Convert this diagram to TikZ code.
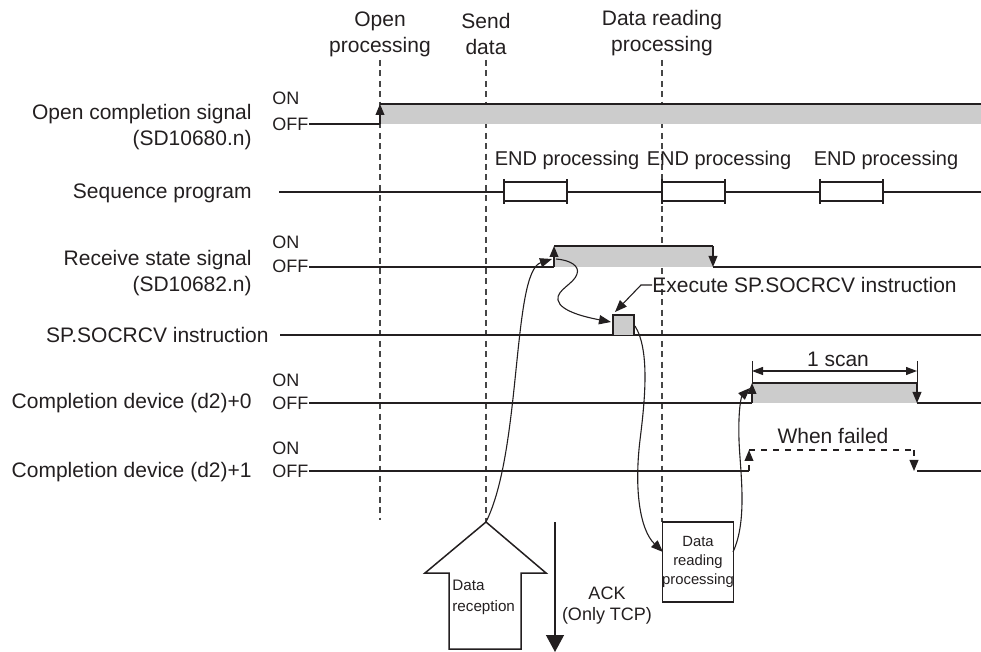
\documentclass[tikz,border=0pt]{standalone}
\usepackage{fontspec}
\setmainfont{Liberation Sans}
\usetikzlibrary{arrows.meta,positioning,calc}
\definecolor{barcol}{RGB}{204,204,204}
\definecolor{linecol}{RGB}{35,31,32}
\definecolor{markcol}{RGB}{70,70,70}
\tikzset{
  % signal name at the left
  siglabel/.style={anchor=east, align=right, inner sep=0pt, font=\fontsize{10.5}{13}\selectfont, text=linecol},
  % ON / OFF level
  lvllabel/.style={anchor=west, inner sep=0pt, font=\fontsize{9}{10}\selectfont, text=linecol},
  % event text
  evlabel/.style={align=center, inner sep=0pt, font=\fontsize{10.5}{13}\selectfont, text=linecol},
  % small text in boxes
  smalltext/.style={inner sep=0pt, font=\fontsize{7.6}{10.5}\selectfont, text=linecol},
  % timing line
  sigline/.style={draw=linecol, line width=0.65pt},
  % event marker
  evline/.style={draw=markcol, dash pattern=on 3pt off 2.2pt, line width=0.55pt},
  % edge arrow on a signal
  edgearrow/.style={-{Triangle[length=5.5pt,width=4.4pt]}, draw=linecol, line width=0.65pt},
  % flow arrow
  flowarrow/.style={-{Triangle[length=6pt,width=4.6pt]}, draw=linecol, line width=0.55pt},
  % dimension arrow
  dimarrow/.style={{Triangle[length=5.5pt,width=4pt]}-{Triangle[length=5.5pt,width=4pt]}, draw=linecol, line width=0.6pt},
  % reading box
  readbox/.style={draw=linecol, line width=0.6pt, fill=white, minimum width=35pt, minimum height=40pt,
                  inner sep=0pt, align=center, font=\fontsize{7.4}{9.3}\selectfont, text=linecol},
}
\begin{document}
\begin{tikzpicture}[x=0.5pt,y=-0.5pt]
  \useasboundingbox (0,0) rectangle (981,652);

  % event markers
  \node[evlabel] (opnlbl) at (380,34) {Open\\processing};
  \node[evlabel] (sndlbl) at (486,34) {Send\\data};
  \node[evlabel] (rdlbl) at (662,33) {Data reading\\processing};
  \coordinate (opntop) at (380,60);  \coordinate (opnbot) at (380,520);
  \coordinate (sndtop) at (486,60);  \coordinate (rcvtip) at (486,522);
  \coordinate (rdtop) at (662,60);   \coordinate (rdbot) at (662,522);
  \draw[evline] (opntop) -- (opnbot);
  \draw[evline] (sndtop) -- (rcvtip);
  \draw[evline] (rdtop) -- (rdbot);

  % open completion signal
  \node[siglabel] (ocslbl) at (252,127) {Open completion signal\\(SD10680.n)};
  \node[lvllabel] (ocson) at (272,98) {ON};
  \node[lvllabel] (ocsoff) at (272,124) {OFF};
  \fill[barcol] (380,104) rectangle (981,124);
  \draw[sigline] (309,124) -- (380,124) (380,104) -- (981,104);
  \draw[edgearrow] (380,124) -- (380,104);

  % sequence program
  \node[siglabel] (seqlbl) at (252,193) {Sequence program};
  \draw[sigline] (279,192) -- (981,192);
  \foreach \bx/\lx [count=\i] in {504/567,662/719,820/886} {
    \draw[sigline, fill=white] (\bx,182) rectangle ++(63,19);
    \draw[sigline] (\bx,179) -- ++(0,25) ++(63,0) -- ++(0,-25);
    \node[evlabel, font=\fontsize{10}{12}\selectfont] (endlbl\i) at (\lx,160) {END processing};
  }

  % receive state signal
  \node[siglabel] (rcvlbl) at (252,273) {Receive state signal\\(SD10682.n)};
  \node[lvllabel] (rcvon) at (272,242) {ON};
  \node[lvllabel] (rcvoff) at (272,266) {OFF};
  \fill[barcol] (554,246) rectangle (713,267);
  \draw[sigline] (309,267) -- (554,267) (554,246) -- (713,246) (713,267) -- (981,267);
  \draw[edgearrow] (554,267) -- (554,246);
  \draw[edgearrow] (713,246) -- (713,267);

  % SP.SOCRCV instruction
  \node[siglabel] (instlbl) at (269,335) {SP.SOCRCV instruction};
  \draw[sigline] (280,335) -- (981,335);
  \draw[sigline, fill=barcol] (613,335) -- (613,315) -- (634,315) -- (634,335);
  \node[evlabel, anchor=west] (exelbl) at (652,285) {Execute SP.SOCRCV instruction};
  \coordinate (exebend) at (641,285);
  \coordinate (pulsetop) at (615,312);
  \draw[flowarrow] (exelbl.west) -- (exebend) -- (pulsetop);

  % completion device (d2)+0
  \node[siglabel] (cd0lbl) at (252,403) {Completion device (d2)+0};
  \node[lvllabel] (cd0on) at (272,380) {ON};
  \node[lvllabel] (cd0off) at (272,403) {OFF};
  \fill[barcol] (752,383) rectangle (917,403);
  \draw[sigline] (309,403) -- (752,403) (752,383) -- (917,383) (917,403) -- (981,403);
  \draw[edgearrow] (752,403) -- (752,383);
  \draw[edgearrow] (917,383) -- (917,403);
  \draw[sigline, line width=0.5pt] (752,361) -- (752,383) (917,361) -- (917,383);
  \draw[dimarrow] (752,371) -- (917,371);
  \node[evlabel] (scanlbl) at (838,359) {1 scan};

  % completion device (d2)+1
  \node[siglabel] (cd1lbl) at (252,472) {Completion device (d2)+1};
  \node[lvllabel] (cd1on) at (272,448) {ON};
  \node[lvllabel] (cd1off) at (272,471) {OFF};
  \draw[sigline] (309,471) -- (749,471) (917,471) -- (981,471);
  \draw[edgearrow, dashed] (749,471) -- (749,450);
  \draw[sigline, dashed] (749,450) -- (914,450);
  \draw[edgearrow, dashed] (914,450) -- (914,471);
  \node[evlabel] (faillbl) at (833,436) {When failed};

  % data reception and ACK
  \draw[sigline, line width=0.75pt] (rcvtip) -- (546,573) -- (521,573) -- (521,649)
    -- (449,649) -- (449,573) -- (425,573) -- cycle;
  \node[smalltext, anchor=west, align=left] (rcvtxt) at (452,597) {Data\\reception};
  \coordinate (acktop) at (555,522);
  \coordinate (ackbot) at (555,652);
  \draw[-{Triangle[length=8.5pt,width=9pt]}, draw=linecol, line width=0.65pt] (acktop) -- (ackbot);
  \node[evlabel, font=\fontsize{9}{10.5}\selectfont] (acklbl) at (607,606) {ACK\\(Only TCP)};

  % data reading box
  \node[readbox] (readbox) at (698,562) {Data\\reading\\processing};
  \coordinate (boxin) at (663,552);
  \coordinate (boxout) at (733,552);

  % flow of the receive
  \coordinate (rcvrise) at (552,259);
  \coordinate (rcvfrom) at (556,259);
  \coordinate (pulsein) at (611,322);
  \coordinate (pulseout) at (635,326);
  \coordinate (cd0rise) at (750,388);
  \draw[flowarrow] (rcvtip) .. controls (522,450) and (512,272) .. (rcvrise);
  \draw[flowarrow] (rcvfrom) .. controls (570,260) and (580,266) .. (577,274)
    .. controls (574,284) and (556,290) .. (558,300)
    .. controls (560,312) and (590,318) .. (pulsein);
  \draw[flowarrow] (pulseout) .. controls (650,350) and (645,400) .. (640,440)
    .. controls (634,490) and (640,530) .. (boxin);
  \draw[flowarrow] (boxout) .. controls (748,520) and (740,470) .. (739,440)
    .. controls (738,405) and (742,396) .. (cd0rise);
\end{tikzpicture}
\end{document}
